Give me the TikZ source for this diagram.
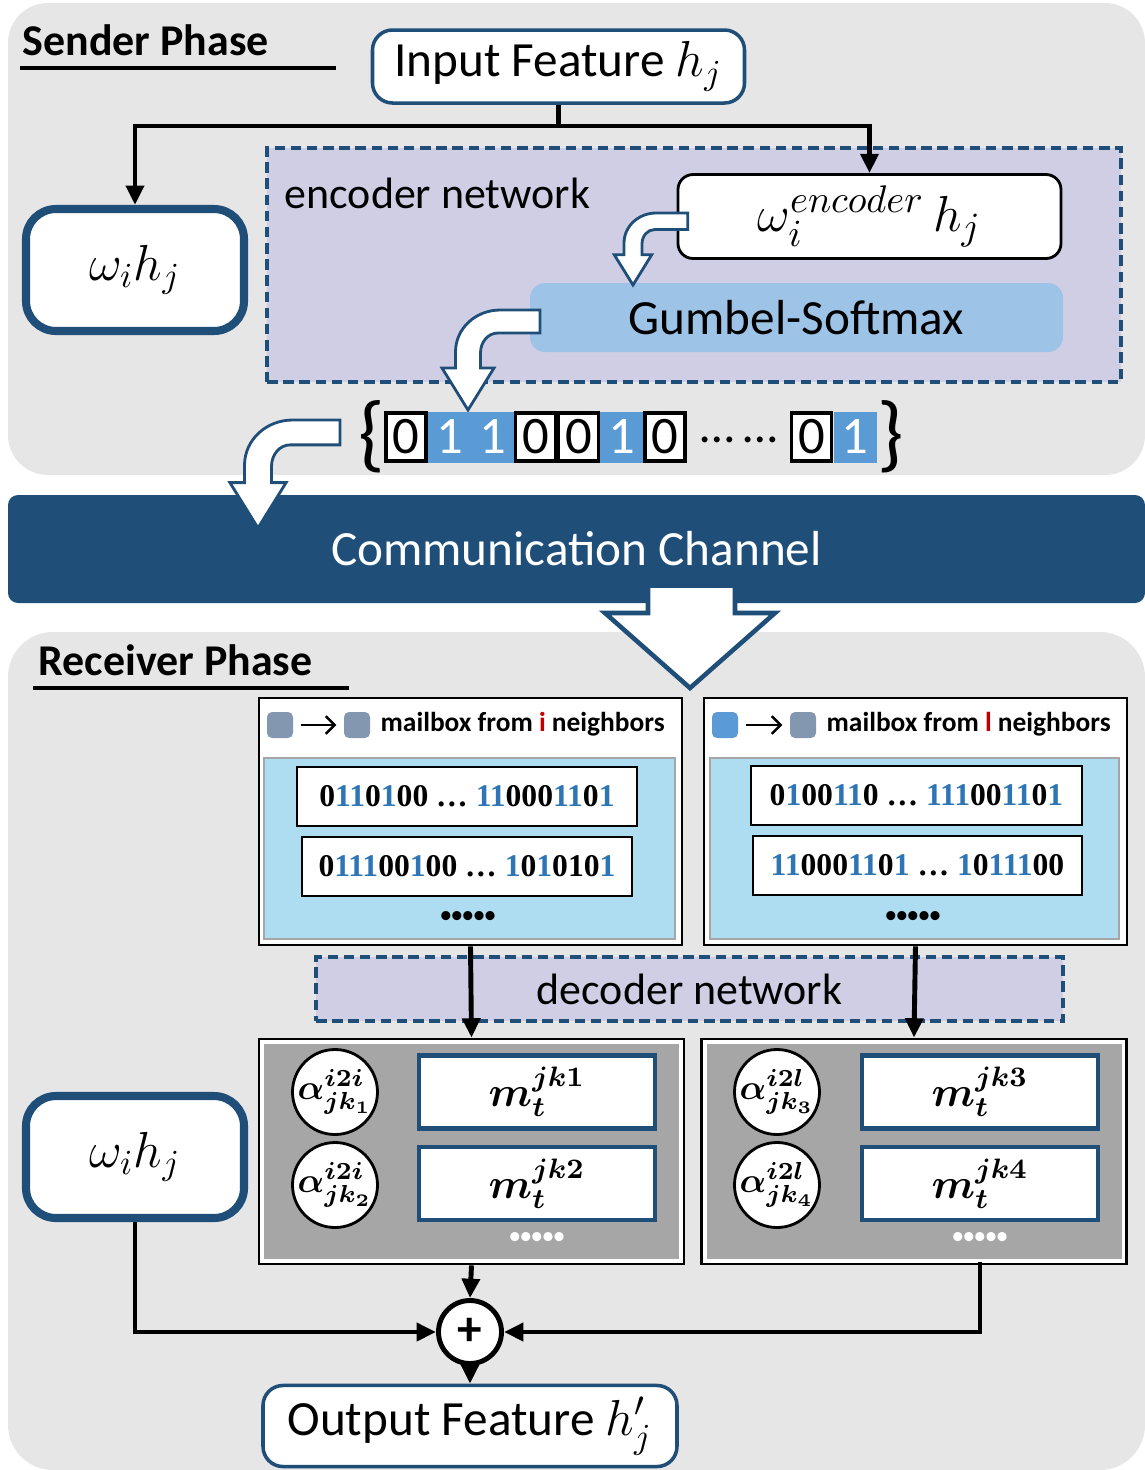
\documentclass[tikz,border=0pt]{standalone}
\usepackage{amsmath,bm}
\usepackage[no-math]{fontspec}
\setmainfont{Carlito}
\newfontfamily\binfont{Liberation Serif}
\newfontfamily\dotfont{Liberation Sans}
\usetikzlibrary{arrows.meta,positioning}

\definecolor{darkblue}{HTML}{1F4E79}
\definecolor{panelgray}{HTML}{E7E6E6}
\definecolor{lavender}{HTML}{D0CEE5}
\definecolor{gumbel}{HTML}{9DC3E6}
\definecolor{bitblue}{HTML}{5B9BD5}
\definecolor{txtblue}{HTML}{2E75B6}
\definecolor{mailblue}{HTML}{AEDCF0}
\definecolor{boxgray}{HTML}{A6A6A6}
\definecolor{squaregray}{HTML}{8497B0}
\definecolor{neighred}{HTML}{C00000}
\newcommand\blu[1]{\textcolor{txtblue}{#1}}

\begin{document}
\begin{tikzpicture}[x=0.1mm, y=-0.1mm,
    >={Triangle[length=5.5pt,width=5pt]},
    featbox/.style={draw=darkblue, line width=1pt, fill=white, rounded corners=2mm, minimum width=37.2mm, minimum height=6.4mm, font=\fontsize{14}{16}\selectfont},
    wbox/.style={draw=darkblue, line width=2.3pt, fill=white, rounded corners=3mm, minimum width=21.8mm, minimum height=12.2mm, font=\fontsize{14.5}{17}\selectfont},
    netbox/.style={draw=darkblue, fill=lavender, line width=1pt, dash pattern=on 3pt off 1.6pt},
    flow/.style={->, line width=1.4pt},
    blockarrow/.style={draw=darkblue, fill=white, line width=0.8pt},
    bitcell/.style={minimum width=4.3mm, minimum height=5.1mm, inner sep=0pt, font=\fontsize{15}{17}\selectfont},
    bitzero/.style={bitcell, draw=black, line width=1pt, fill=white, minimum width=4.0mm, minimum height=4.8mm},
    bitone/.style={bitcell, fill=bitblue, text=white},
    mailbox/.style={draw=black, line width=0.8pt, fill=white, minimum width=42.3mm, minimum height=24.7mm},
    mailinner/.style={draw=boxgray, line width=0.8pt, fill=mailblue, minimum height=18.1mm},
    codebox/.style={draw=black, line width=0.8pt, fill=white, minimum height=5.9mm, font=\binfont\bfseries\fontsize{9}{11}\selectfont},
    sq/.style={minimum size=2.6mm, inner sep=0pt, rounded corners=0.5mm},
    headtext/.style={anchor=west, inner sep=0pt, font=\bfseries\fontsize{7.8}{9}\selectfont},
    atbox/.style={draw=black, line width=0.8pt, fill=white, minimum width=42.5mm, minimum height=22.5mm},
    atinner/.style={fill=boxgray, minimum width=41.5mm, minimum height=21.5mm},
    attcircle/.style={circle, draw=black, line width=0.8pt, fill=white, minimum size=8.5mm, inner sep=-1pt, font=\fontsize{10}{12}\selectfont},
    msg/.style={draw=darkblue, line width=1.3pt, fill=white, minimum width=23.6mm, minimum height=5.8mm, font=\fontsize{11.5}{13}\selectfont},
    bulletrow/.style={inner sep=0pt, font=\dotfont\bfseries\fontsize{9}{9}\selectfont},
    title/.style={anchor=west, inner sep=0pt, font=\bfseries\fontsize{12.5}{14}\selectfont},
  ]
  \useasboundingbox (0,0) rectangle (1145,1470);

  % Panels
  \fill[panelgray, rounded corners=4mm] (8,3) rectangle (1145,475);
  \fill[panelgray, rounded corners=4.5mm] (8,632) rectangle (1145,1470);

  % Sender phase
  \node[title] (sendtitle) at (22,40) {Sender Phase};
  \draw[line width=1.4pt] (20,68) -- (336,68);

  \node[featbox] (input) at (558.5,66.5) {Input Feature $h_j$};
  \coordinate (split) at (558.5,126);
  \node[wbox] (wtop) at (135,270) {$\omega_i h_j$};
  \node[netbox, minimum width=85.4mm, minimum height=23.4mm] (encnet) at (694,265) {};
  \node[anchor=west, inner sep=0pt, font=\fontsize{12.5}{15}\selectfont] (enclabel) at (284,193) {encoder network};
  \node[draw=black, line width=0.8pt, fill=white, rounded corners=1.5mm, minimum width=38.3mm, minimum height=6.5mm, font=\fontsize{15}{17}\selectfont] (wenc) at (869.5,216.5) {$\omega_i^{encoder}\,h_j$};
  \node[fill=gumbel, rounded corners=1.5mm, minimum width=53.3mm, minimum height=6.9mm, font=\fontsize{14}{16}\selectfont] (gumbel) at (796.5,317.5) {Gumbel-Softmax};

  \draw[line width=1.4pt] (input.south) -- (split);
  \draw[flow] (split) -| (wtop.north);
  \draw[flow] (split) -| (wenc.north);

  % Curved block arrows
  \begin{scope}[shift={(633,285)}, scale=0.72]
    \draw[blockarrow] (76,-100) -- (32,-100) .. controls (8,-100) and (-12.5,-82) .. (-12.5,-58) -- (-12.5,-42) -- (-26,-42) -- (0,0) -- (26,-42) -- (12.5,-42) -- (12.5,-57) .. controls (12.5,-68) and (20,-77) .. (30,-77) -- (76,-77) -- cycle;
  \end{scope}
  \begin{scope}[shift={(468,410)}]
    \draw[blockarrow] (72,-100) -- (32,-100) .. controls (8,-100) and (-12.5,-82) .. (-12.5,-58) -- (-12.5,-42) -- (-26,-42) -- (0,0) -- (26,-42) -- (12.5,-42) -- (12.5,-57) .. controls (12.5,-68) and (20,-77) .. (30,-77) -- (72,-77) -- cycle;
  \end{scope}

  % Bit string
  \node[font=\fontsize{24}{26}\selectfont, inner sep=0pt] (lbrace) at (372,437) {\{};
  \foreach \x/\s/\b in {406/bitzero/0, 449.5/bitone/1, 492.5/bitone/1, 535.5/bitzero/0, 578.5/bitzero/0, 621.5/bitone/1, 665/bitzero/0, 811.5/bitzero/0, 855/bitone/1}
    \node[\s] (cell\x) at (\x,437) {\b};
  \node[font=\fontsize{14}{16}\selectfont, inner sep=0pt] (bitdots) at (739,440) {…\,…};
  \node[font=\fontsize{24}{26}\selectfont, inner sep=0pt] (rbrace) at (891,437) {\}};

  % Channel
  \node[fill=darkblue, rounded corners=1mm, minimum width=113.7mm, minimum height=10.8mm, text=white, font=\fontsize{14}{17}\selectfont] (channel) at (576.5,549) {Communication Channel};
  \begin{scope}[shift={(258,528)}, scale=1.08]
    \draw[blockarrow] (76,-100) -- (32,-100) .. controls (8,-100) and (-12.5,-82) .. (-12.5,-58) -- (-12.5,-42) -- (-26,-42) -- (0,0) -- (26,-42) -- (12.5,-42) -- (12.5,-57) .. controls (12.5,-68) and (20,-77) .. (30,-77) -- (76,-77) -- cycle;
  \end{scope}
  \draw[darkblue, fill=white, line width=1.3pt] (648,588) -- (648,613) -- (605,613) -- (690,688) -- (775,613) -- (735,613) -- (735,588);

  % Receiver phase
  \node[title] (recvtitle) at (38,660) {Receiver Phase};
  \draw[line width=1.4pt] (33,688) -- (349,688);

  % Mailboxes
  \node[mailbox] (mailL) at (470.5,821.5) {};
  \node[mailinner, minimum width=41.1mm] (mailLin) at (469.5,848.5) {};
  \node[sq, fill=squaregray] (sqLa) at (280,725) {};
  \node[sq, fill=squaregray] (sqLb) at (357,725) {};
  \draw[-{Straight Barb[length=2.5pt,width=5pt]}, line width=0.7pt, shorten <=2pt, shorten >=2pt] (sqLa) -- (sqLb);
  \node[headtext] (headL) at (380,724) {mailbox from \textcolor{neighred}{i} neighbors};
  \node[codebox, minimum width=34mm] (codeL1) at (467,796.5) {0\blu{11}0\blu{1}00 … \blu{11}000\blu{11}0\blu{1}};
  \node[codebox, minimum width=33mm] (codeL2) at (467,866.5) {0\blu{111}00\blu{1}00 … \blu{1}0\blu{1}010\blu{1}};
  \node[bulletrow] (dotsL) at (468,919) {•••••};

  \node[mailbox] (mailR) at (915.5,821.5) {};
  \node[mailinner, minimum width=40.9mm] (mailRin) at (914.5,848.5) {};
  \node[sq, fill=bitblue] (sqRa) at (725,725) {};
  \node[sq, fill=squaregray] (sqRb) at (803,725) {};
  \draw[-{Straight Barb[length=2.5pt,width=5pt]}, line width=0.7pt, shorten <=2pt, shorten >=2pt] (sqRa) -- (sqRb);
  \node[headtext] (headR) at (826,724) {mailbox from \textcolor{neighred}{l} neighbors};
  \node[codebox, minimum width=33.1mm] (codeR1) at (916.5,795.5) {0\blu{1}00\blu{11}0 … \blu{111}00\blu{11}0\blu{1}};
  \node[codebox, minimum width=32.9mm] (codeR2) at (917.5,865.5) {\blu{11}000\blu{11}0\blu{1} … \blu{1}0\blu{111}00};
  \node[bulletrow] (dotsR) at (913,919) {•••••};

  % Decoder
  \node[netbox, minimum width=74.7mm, minimum height=6.4mm, font=\fontsize{12.5}{15}\selectfont] (decnet) at (689.5,989) {decoder network};

  % Attention boxes
  \node[atbox] (attL) at (471.5,1151.5) {};
  \node[atinner] (attLbg) at (471.5,1151.5) {};
  \node[attcircle] (aL1) at (335,1092) {$\bm{\alpha^{i2i}_{jk_1}}$};
  \node[attcircle] (aL2) at (335,1185) {$\bm{\alpha^{i2i}_{jk_2}}$};
  \node[msg] (mL1) at (537,1092) {$\bm{m_t^{jk1}}$};
  \node[msg] (mL2) at (537,1183.5) {$\bm{m_t^{jk2}}$};
  \node[bulletrow, text=white] (dotsAL) at (537,1240) {•••••};

  \node[atbox] (attR) at (914,1151.5) {};
  \node[atinner] (attRbg) at (914,1151.5) {};
  \node[attcircle] (aR1) at (777,1092) {$\bm{\alpha^{i2l}_{jk_3}}$};
  \node[attcircle] (aR2) at (777,1185) {$\bm{\alpha^{i2l}_{jk_4}}$};
  \node[msg] (mR1) at (980,1092) {$\bm{m_t^{jk3}}$};
  \node[msg] (mR2) at (980,1183.5) {$\bm{m_t^{jk4}}$};
  \node[bulletrow, text=white] (dotsAR) at (980,1240) {•••••};

  \draw[flow] (mailL.south) -- (attL.north);
  \draw[flow] (mailR.south) -- (attR.north);

  % Aggregation
  \node[wbox] (wbot) at (135,1157) {$\omega_i h_j$};
  \node[circle, draw=black, fill=white, line width=1.4pt, minimum size=6.3mm, inner sep=0pt, font=\bfseries\fontsize{14}{14}\selectfont] (plus) at (470,1332) {+};
  \node[featbox, minimum width=41.4mm] (output) at (470,1426) {Output Feature $h'_j$};
  \coordinate (attRout) at (980,1262);

  \draw[flow] (attL.south) -- (plus.north);
  \draw[flow] (wbot.south) |- (plus.west);
  \draw[flow] (attRout) |- (plus.east);
  \draw[flow] (plus.south) -- (output.north);
\end{tikzpicture}
\end{document}
